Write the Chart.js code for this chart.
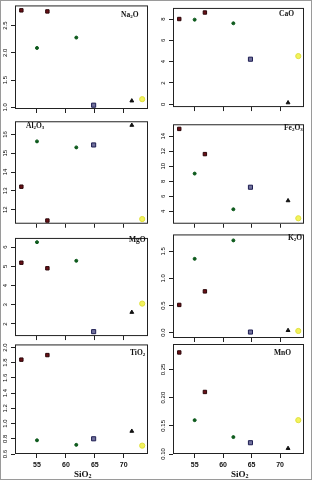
<!DOCTYPE html>
<html>
<head>
<meta charset="utf-8">
<script src="https://cdn.jsdelivr.net/npm/chart.js@4.4.1/dist/chart.umd.min.js"></script>
<style>
  html, body { margin: 0; padding: 0; background: #fff; }
  #wrap { position: relative; width: 312px; height: 480px; overflow: hidden; }
  #frame { position: absolute; left: 0; top: 0; width: 312px; height: 480px; box-sizing: border-box; border: 1px solid #9a9a9a; }
  canvas { position: absolute; }
  .lab { position: absolute; font: bold 7.5px 'Liberation Serif', serif; color: #111; white-space: nowrap; line-height: 1; }
  .lab sub { font-size: 5px; vertical-align: -1px; line-height: 0; }
  .xt { position: absolute; font: bold 9px 'Liberation Serif', serif; color: #111; white-space: nowrap; line-height: 1; }
  .xt sub { font-size: 6px; vertical-align: -1px; line-height: 0; }
</style>
</head>
<body>
<div id="wrap"><div id="frame"></div></div>
<script>
// samples (SiO2 wt%) and the oxide contents
const siO2  = [52.3, 56.8, 55.0, 61.8, 64.8, 71.4, 73.2];
const sampleGroup = [0, 0, 1, 1, 2, 3, 4];

const na2O  = [2.78, 2.76, 2.09, 2.28, 1.04, 1.12, 1.15];
const caO   = [8.00, 8.61, 7.94, 7.60, 4.23, 0.15, 4.52];
const al2O3 = [13.22, 11.42, 15.63, 15.31, 15.44, 16.49, 11.50];
const fe2O3 = [14.98, 11.62, 9.02, 4.26, 7.20, 5.41, 3.06];
const mgO   = [5.19, 4.90, 6.26, 5.29, 1.60, 2.61, 3.06];
const k2O   = [0.51, 0.76, 1.36, 1.70, 0.01, 0.04, 0.03];
const tiO2  = [1.84, 1.90, 0.78, 0.72, 0.80, 0.90, 0.71];
const mnO   = [0.28, 0.21, 0.16, 0.13, 0.12, 0.11, 0.16];

// tick values
const xTicks     = [55, 60, 65, 70];
const na2OTicks  = [1.0, 1.5, 2.0, 2.5];
const caOTicks   = [0, 2, 4, 6, 8];
const al2O3Ticks = [12, 13, 14, 15, 16];
const fe2O3Ticks = [4, 6, 8, 10, 12, 14];
const mgOTicks   = [2, 3, 4, 5, 6];
const k2OTicks   = [0.0, 0.5, 1.0, 1.5];
const tiO2Ticks  = [0.6, 0.8, 1.0, 1.2, 1.4, 1.6, 1.8, 2.0];
const mnOTicks   = [0.10, 0.15, 0.20, 0.25];

const markers = [
  { pointStyle: 'rect',     radius: 2.4, bg: '#6a1016', border: '#2a0508' },
  { pointStyle: 'circle',   radius: 1.5, bg: '#0d5a1c', border: '#0d5a1c' },
  { pointStyle: 'rect',     radius: 2.9, bg: '#70709c', border: '#1e1e52' },
  { pointStyle: 'triangle', radius: 2.2, bg: '#111111', border: '#111111' },
  { pointStyle: 'circle',   radius: 2.6, bg: '#f3f35c', border: '#e0e040' }
];

// panel layout: box = [left, top, right, bottom] of the plot frame
const panels = [
  { name: 'Na<sub>2</sub>O',              vals: na2O,  ticks: na2OTicks,  dec: 1, min: 0.97,  max: 2.87,  box: [15, 2, 151, 109],   lab: [121, 11] },
  { name: 'CaO',                          vals: caO,   ticks: caOTicks,   dec: 0, min: -0.26, max: 9.04,  box: [173, 2, 307, 109],  lab: [279, 10] },
  { name: 'Al<sub>2</sub>O<sub>3</sub>',  vals: al2O3, ticks: al2O3Ticks, dec: 0, min: 11.25, max: 16.7,  box: [15, 117, 151, 224], lab: [26, 122] },
  { name: 'Fe<sub>2</sub>O<sub>3</sub>',  vals: fe2O3, ticks: fe2O3Ticks, dec: 0, min: 2.33,  max: 15.6,  box: [173, 120, 307, 224],lab: [284, 124] },
  { name: 'MgO',                          vals: mgO,   ticks: mgOTicks,   dec: 0, min: 1.37,  max: 6.48,  box: [15, 232, 151, 338], lab: [129, 236] },
  { name: 'K<sub>2</sub>O',               vals: k2O,   ticks: k2OTicks,   dec: 1, min: -0.10, max: 1.81,  box: [173, 231, 307, 338],lab: [288, 234] },
  { name: 'TiO<sub>2</sub>',              vals: tiO2,  ticks: tiO2Ticks,  dec: 1, min: 0.6,   max: 2.04,  box: [15, 341, 151, 454], lab: [130, 349], bottom: true },
  { name: 'MnO',                          vals: mnO,   ticks: mnOTicks,   dec: 2, min: 0.1,   max: 0.295, box: [173, 341, 307, 454],lab: [274, 349], bottom: true }
];

const AXW = 15, PT = 2, PR = 2;
const yFont = { size: 6, family: 'Liberation Sans' };
const measure = document.createElement('canvas').getContext('2d');
measure.font = 'normal 6px Liberation Sans';

const boxPlugin = {
  id: 'box',
  beforeDatasetsDraw(c) {
    const a = c.chartArea, ctx = c.ctx;
    ctx.save();
    ctx.strokeStyle = '#222';
    ctx.lineWidth = 1;
    ctx.strokeRect(a.left + 0.5, a.top + 0.5, a.right - a.left - 1, a.bottom - a.top - 1);
    ctx.restore();
  }
};

const wrap = document.getElementById('wrap');

panels.forEach(p => {
  const [l, t, r, b] = p.box;
  const xh = p.bottom ? 22 : 6;
  const cv = document.createElement('canvas');
  cv.width = AXW + (r - l) + PR;
  cv.height = PT + (b - t) + xh;
  cv.style.left = (l - AXW) + 'px';
  cv.style.top = (t - PT) + 'px';
  wrap.appendChild(cv);

  const labels = p.ticks.map(v => v.toFixed(p.dec));
  const widest = Math.max(...labels.map(s => measure.measureText(s).width));
  const yPad = 10 - 4 - widest / 2;

  const datasets = markers.map((m, gi) => ({
    data: siO2.map((x, i) => ({ x: x, y: p.vals[i], g: sampleGroup[i] }))
              .filter(d => d.g === gi),
    pointStyle: m.pointStyle,
    pointRadius: m.radius,
    pointBackgroundColor: m.bg,
    pointBorderColor: m.border,
    pointBorderWidth: 1,
    showLine: false,
    clip: false
  }));

  new Chart(cv, {
    type: 'scatter',
    data: { datasets },
    options: {
      responsive: false,
      animation: false,
      devicePixelRatio: 1,
      layout: { padding: { top: PT, right: PR, left: 0, bottom: 0 } },
      plugins: { legend: { display: false }, tooltip: { enabled: false } },
      scales: {
        x: {
          type: 'linear', min: 51.2, max: 74.2,
          afterBuildTicks: s => { s.ticks = xTicks.map(v => ({ value: v })); },
          afterFit: s => { s.height = xh; },
          grid: { drawOnChartArea: false, drawTicks: true, tickLength: 4, color: '#222' },
          border: { display: false },
          ticks: { display: !!p.bottom, maxRotation: 0, padding: 3, color: '#111',
                   font: { size: 7, weight: 'bold', family: 'Liberation Sans' } }
        },
        y: {
          type: 'linear', min: p.min, max: p.max,
          afterBuildTicks: s => { s.ticks = p.ticks.map(v => ({ value: v })); },
          afterFit: s => { s.width = AXW; },
          grid: { drawOnChartArea: false, drawTicks: true, tickLength: 4, color: '#222' },
          border: { display: false },
          ticks: { minRotation: 90, maxRotation: 90, crossAlign: 'center', padding: yPad,
                   color: '#000', font: yFont,
                   callback: v => v.toFixed(p.dec) }
        }
      }
    },
    plugins: [boxPlugin]
  });

  const lab = document.createElement('div');
  lab.className = 'lab';
  lab.innerHTML = p.name;
  lab.style.left = p.lab[0] + 'px';
  lab.style.top = p.lab[1] + 'px';
  wrap.appendChild(lab);

  if (p.bottom) {
    const xt = document.createElement('div');
    xt.className = 'xt';
    xt.innerHTML = 'SiO<sub>2</sub>';
    xt.style.left = Math.round((l + r) / 2 - 9) + 'px';
    xt.style.top = '470px';
    wrap.appendChild(xt);
  }
});
</script>
</body>
</html>
